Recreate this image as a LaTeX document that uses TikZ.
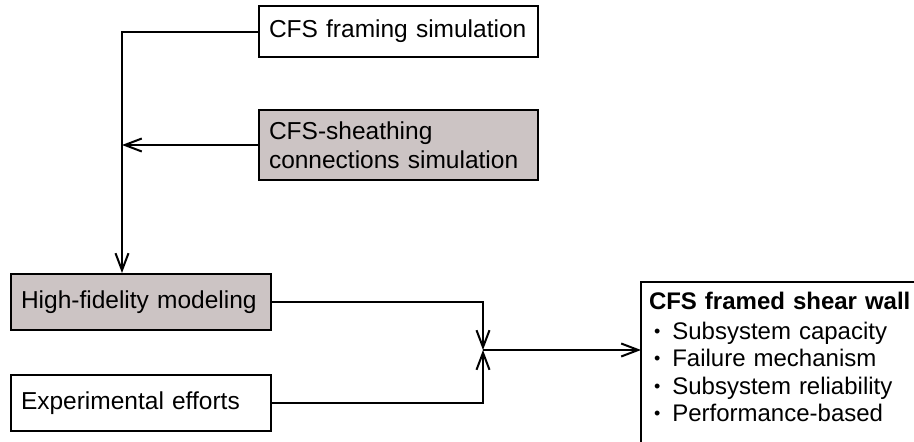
\documentclass[tikz,border=0pt]{standalone}
\usepackage{fontspec}
\setmainfont{Liberation Sans}
\usepackage{xcolor}
\usetikzlibrary{arrows.meta, positioning}
\definecolor{boxgray}{RGB}{204,196,196}
\newcommand{\dotitem}{\hspace*{5pt}\raisebox{2pt}{\fontsize{18}{0}\selectfont\textbullet}\hspace{12pt}}

\begin{document}
\begin{tikzpicture}[x=1pt, y=-1pt, node distance = 40pt,
        font=\fontsize{24.5}{28.5}\selectfont,
        box/.style={draw, line width=2pt, align=left, anchor=north west, inner xsep=10pt, inner ysep=0pt},
        simbox/.style={box, text width=259pt},
        inbox/.style={box, text width=240pt, minimum height=56pt},
        link/.style={line width=2pt},
        tip/.style={link, -{Straight Barb[length=17pt, width=13pt, line width=2pt]}}]
        \useasboundingbox (0,0) rectangle (914,442);
        \clip (0,0) rectangle (914,442);

        \node[simbox, minimum height=51pt] (frame) at (258,5) {CFS framing simulation};
        \node[simbox, fill=boxgray, minimum height=70pt, below=51pt of frame.south west, anchor=north west] (sheath) {CFS-sheathing\\connections simulation};

        \node[inbox, fill=boxgray] (hf) at (10,273) {High-fidelity modeling};
        \node[inbox, below=43pt of hf.south west, anchor=north west] (exp) {Experimental efforts};

        % wall box runs off the page at right and bottom
        \node[box, draw=none, inner xsep=7pt, inner ysep=9pt, text width=300pt,
              font=\fontsize{24}{27.5}\selectfont] (wall) at (641,282)
            {\textbf{CFS framed shear wall}\\[2.5pt]
             \dotitem Subsystem capacity\\
             \dotitem Failure mechanism\\
             \dotitem Subsystem reliability\\
             \dotitem Performance-based};
        \draw[link] (wall.north west) rectangle ++(330,200);

        \coordinate (spine) at (122,31);
        \coordinate (join) at (483,350);

        \draw[tip] (frame.west) -| (hf.north -| spine);
        \draw[tip] (sheath.west) -- (sheath.west -| spine);

        \draw[tip] (hf.east) -| (join);
        \draw[tip] (exp.east) -| (join);
        \draw[tip] (join) -- (wall.west |- join);
    \end{tikzpicture}
\end{document}
